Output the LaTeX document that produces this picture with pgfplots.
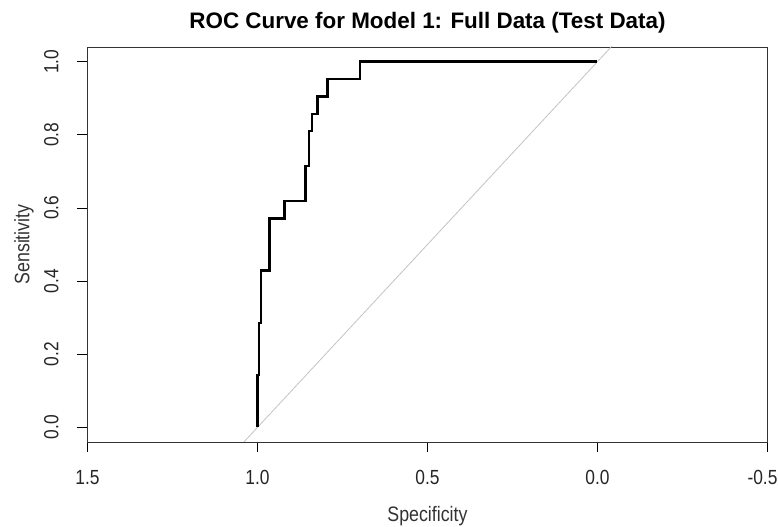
\documentclass[border=0pt]{standalone}
\usepackage{fontspec}
\setmainfont{Liberation Sans}
\newfontfamily\tickfont{Liberation Sans}[FakeStretch=0.85]
\usepackage{pgfplots}
\pgfplotsset{compat=1.18}
\definecolor{diag}{RGB}{195,195,195}
\begin{document}
\begin{tikzpicture}
\path[use as bounding box] (0bp,0bp) rectangle (778bp,527bp);
\begin{axis}[
  at={(87.5bp,85bp)}, anchor=south west,
  scale only axis, width=680bp, height=395bp,
  xmin=-0.5, xmax=1.5, x dir=reverse,
  ymin=-0.04, ymax=1.04,
  xtick={-0.5,0,0.5,1,1.5},
  ytick={0,0.2,0.4,0.6,0.8,1.0},
  xticklabels={\hspace*{-10bp}-0.5,0.0,0.5,1.0,1.5},
  yticklabels={0.0,0.2,0.4,0.6,0.8,1.0},
  xtick pos=left, ytick pos=left,
  tick align=outside,
  major tick length=10bp,
  every tick/.style={black, line width=0.8bp},
  axis line style={black!80, line width=0.9bp},
  xticklabel style={font=\tickfont\fontsize{20.5}{24}\selectfont, text=black!85, anchor=base},
  xticklabel shift=33bp,
  yticklabel style={font=\tickfont\fontsize{20.5}{24}\selectfont, text=black!85, rotate=90, anchor=base},
  yticklabel shift=19bp,
  title={ROC Curve for Model 1: Full Data (Test Data)},
  title style={font=\bfseries\fontsize{22.5}{26}\selectfont, at={(axis description cs:0.5,1)}, anchor=base, yshift=13bp, inner sep=0pt},
  xlabel={Specificity},
  xlabel style={font=\tickfont\fontsize{21}{24}\selectfont, text=black!80, at={(axis description cs:0.5,0)}, anchor=base, yshift=-80bp, inner sep=0pt},
  ylabel={Sensitivity},
  ylabel style={font=\tickfont\fontsize{21}{24}\selectfont, text=black!80, at={(axis description cs:0,0.5)}, anchor=base, yshift=58bp, inner sep=0pt},
  clip=true,
]
\addplot[diag, line width=0.8bp, forget plot] coordinates {(1.5,-0.5) (-0.5,1.5)};
\addplot[black, line width=2.4bp, const plot, line join=miter] coordinates {
(1.000,0.0000)
(1.000,0.1429)
(0.996,0.1429)
(0.996,0.2857)
(0.989,0.2857)
(0.989,0.4286)
(0.965,0.4286)
(0.965,0.5714)
(0.921,0.5714)
(0.921,0.6190)
(0.859,0.6190)
(0.859,0.7143)
(0.849,0.7143)
(0.849,0.8095)
(0.840,0.8095)
(0.840,0.8571)
(0.824,0.8571)
(0.824,0.9048)
(0.794,0.9048)
(0.794,0.9524)
(0.698,0.9524)
(0.698,1.0000)
(0.000,1.0000)
};
\end{axis}
\end{tikzpicture}
\end{document}
